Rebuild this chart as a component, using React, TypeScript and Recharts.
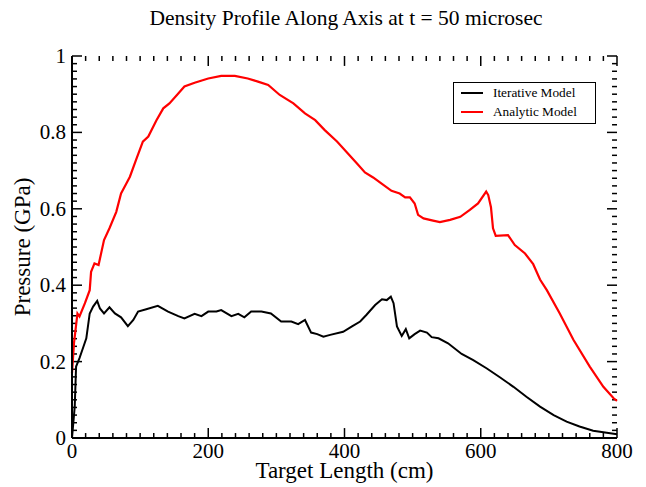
import { LineChart, Line, XAxis, YAxis, Legend, Label, ReferenceLine } from 'recharts';

const iterativeX = [
  0, 4, 6, 11, 16, 21, 26, 31, 37, 41, 47, 55, 63, 72, 82, 90, 97, 109, 126, 141, 156, 165, 180, 190,
  200, 212, 219, 234, 244, 253, 263, 278, 292, 307, 322, 332, 342, 351, 360, 369, 379, 398, 411, 423,
  432, 445, 455, 462, 468, 472, 477, 484, 490, 495, 503, 511, 521, 528, 538, 552, 572, 589, 609, 628,
  648, 667, 687, 707, 726, 745, 765, 785, 800,
];
const iterativeY = [
  0.0, 0.082, 0.187, 0.209, 0.235, 0.261, 0.326, 0.344, 0.359, 0.339, 0.326, 0.342, 0.326, 0.316, 0.293,
  0.309, 0.331, 0.337, 0.346, 0.331, 0.319, 0.313, 0.325, 0.319, 0.331, 0.331, 0.335, 0.319, 0.325, 0.316,
  0.331, 0.331, 0.326, 0.305, 0.305, 0.298, 0.309, 0.276, 0.272, 0.265, 0.27, 0.278, 0.292, 0.305, 0.322,
  0.348, 0.363, 0.361, 0.37, 0.353, 0.292, 0.267, 0.285, 0.261, 0.272, 0.281, 0.276, 0.264, 0.261, 0.248,
  0.22, 0.204, 0.182, 0.159, 0.134, 0.108, 0.082, 0.06, 0.043, 0.03, 0.019, 0.014, 0.01,
];

const analyticX = [
  0, 3, 8, 11, 19, 26, 28, 33, 39, 47, 55, 65, 72, 80, 85, 94, 104, 112, 124, 134, 143, 156, 165, 180,
  200, 219, 239, 258, 273, 288, 305, 325, 342, 357, 371, 389, 403, 418, 430, 442, 455, 469, 481, 489,
  496, 503, 508, 516, 530, 540, 555, 570, 584, 596, 608, 611, 615, 618, 622, 640, 650, 665, 677, 687,
  697, 716, 736, 760, 780, 795, 800,
];
const analyticY = [
  0.17, 0.25, 0.326, 0.318, 0.353, 0.387, 0.435, 0.457, 0.453, 0.518, 0.549, 0.592, 0.64, 0.667, 0.684,
  0.728, 0.776, 0.789, 0.832, 0.863, 0.876, 0.902, 0.92, 0.93, 0.941, 0.948, 0.948, 0.941, 0.933, 0.924,
  0.898, 0.876, 0.85, 0.832, 0.806, 0.776, 0.749, 0.719, 0.695, 0.682, 0.665, 0.647, 0.64, 0.63, 0.63,
  0.614, 0.584, 0.575, 0.569, 0.565, 0.571, 0.579, 0.597, 0.614, 0.645, 0.636, 0.604, 0.549, 0.529,
  0.531, 0.505, 0.483, 0.455, 0.415, 0.387, 0.326, 0.257, 0.187, 0.134, 0.104, 0.097,
];

const xMajor = [0, 200, 400, 600, 800];
const yMajor = [0, 0.2, 0.4, 0.6, 0.8, 1];
const yLabels = ['0', '0.2', '0.4', '0.6', '0.8', '1'];

const xTicks = Array.from({ length: 41 }, (_, i) => i * 20);
const yTicks = Array.from({ length: 51 }, (_, i) => Math.round(i * 2) / 100);

const iterativeData = iterativeX.map((x, i) => ({ x, y: iterativeY[i] }));
const analyticData = analyticX.map((x, i) => ({ x, y: analyticY[i] }));

const FONT = '"Liberation Serif", "Times New Roman", serif';

// inward tick lengths in data units (~10px major, ~5px minor)
const VTICK_MAJOR = 0.026; // vertical ticks on x axes, in y units
const VTICK_MINOR = 0.013;
const HTICK_MAJOR = 14.7; // horizontal ticks on y axes, in x units
const HTICK_MINOR = 7.3;

const isMajorX = (v: number) => xMajor.includes(v);
const majorYIndex = (v: number) => yMajor.findIndex((m) => Math.abs(m - v) < 1e-6);

const bottomTick = (p: any) => {
  const { x, y, payload } = p;
  if (!isMajorX(payload.value)) return <g />;
  return (
    <text x={x} y={y + 20} textAnchor="middle" fontFamily={FONT} fontSize={21} fill="#000">
      {payload.value}
    </text>
  );
};

const leftTick = (p: any) => {
  const { x, y, payload } = p;
  const idx = majorYIndex(payload.value);
  if (idx < 0) return <g />;
  return (
    <text x={x - 6} y={y + 7} textAnchor="end" fontFamily={FONT} fontSize={21} fill="#000">
      {yLabels[idx]}
    </text>
  );
};

const legendItems = [
  { name: 'Iterative Model', color: '#000000' },
  { name: 'Analytic Model', color: '#ff0000' },
];

const LegendBox = () => (
  <div
    style={{
      width: 141,
      height: 39,
      border: '1.5px solid #000',
      background: '#fff',
      boxSizing: 'content-box',
      fontFamily: FONT,
      fontSize: 13.3,
      paddingTop: 1,
    }}
  >
    {legendItems.map((it) => (
      <div key={it.name} style={{ display: 'flex', alignItems: 'center', height: 18.5 }}>
        <div style={{ width: 22, height: 2, background: it.color, marginLeft: 7, marginRight: 10 }} />
        <span style={{ color: '#000', lineHeight: '18px', whiteSpace: 'nowrap' }}>{it.name}</span>
      </div>
    ))}
  </div>
);

const tickSegments = () => {
  const segs: { key: string; seg: { x: number; y: number }[] }[] = [];
  xTicks.forEach((v) => {
    const len = isMajorX(v) ? VTICK_MAJOR : VTICK_MINOR;
    segs.push({ key: `b${v}`, seg: [{ x: v, y: 0 }, { x: v, y: len }] });
    segs.push({ key: `t${v}`, seg: [{ x: v, y: 1 }, { x: v, y: 1 - len }] });
  });
  yTicks.forEach((v) => {
    const len = majorYIndex(v) >= 0 ? HTICK_MAJOR : HTICK_MINOR;
    segs.push({ key: `l${v}`, seg: [{ x: 0, y: v }, { x: len, y: v }] });
    segs.push({ key: `r${v}`, seg: [{ x: 800, y: v }, { x: 800 - len, y: v }] });
  });
  return segs;
};

export default function App() {
  return (
    <div style={{ position: 'absolute', left: 0, top: 0, width: 646, height: 487, background: '#fff' }}>
      <div
        style={{
          position: 'absolute',
          left: 0,
          top: 5,
          width: 692,
          textAlign: 'center',
          fontFamily: FONT,
          fontSize: 21.5,
          color: '#000',
          lineHeight: '26px',
        }}
      >
        Density Profile Along Axis at t = 50 microsec
      </div>
      <LineChart width={646} height={487} margin={{ top: 56, right: 29, bottom: 9, left: 22 }}>
        <XAxis
          dataKey="x"
          type="number"
          domain={[0, 800]}
          ticks={xTicks}
          interval={0}
          tickSize={0}
          tickMargin={0}
          tickLine={false}
          tick={bottomTick}
          height={40}
          axisLine={{ stroke: '#000', strokeWidth: 2 }}
        >
          <Label
            value="Target Length (cm)"
            position="insideBottom"
            offset={0}
            style={{ fontFamily: FONT, fontSize: 23, fill: '#000' }}
          />
        </XAxis>
        <XAxis
          xAxisId="top"
          dataKey="x"
          type="number"
          orientation="top"
          domain={[0, 800]}
          tick={false}
          tickLine={false}
          height={0}
          axisLine={{ stroke: '#000', strokeWidth: 2 }}
        />
        <YAxis
          type="number"
          domain={[0, 1]}
          ticks={yTicks}
          interval={0}
          tickSize={0}
          tickMargin={0}
          tickLine={false}
          tick={leftTick}
          width={50}
          axisLine={{ stroke: '#000', strokeWidth: 2 }}
        >
          <Label
            value="Pressure (GPa)"
            angle={-90}
            position="center"
            dx={-25}
            style={{ fontFamily: FONT, fontSize: 23, fill: '#000' }}
          />
        </YAxis>
        <YAxis
          yAxisId="right"
          type="number"
          orientation="right"
          domain={[0, 1]}
          tick={false}
          tickLine={false}
          width={0}
          axisLine={{ stroke: '#000', strokeWidth: 2 }}
        />
        {tickSegments().map((s) => (
          <ReferenceLine key={s.key} segment={s.seg} stroke="#000" strokeWidth={1.5} ifOverflow="visible" />
        ))}
        <Legend
          layout="vertical"
          align="center"
          verticalAlign="middle"
          content={<LegendBox />}
          wrapperStyle={{ left: 453, top: 82, width: 144, height: 42 }}
        />
        <Line
          data={iterativeData}
          dataKey="y"
          name="Iterative Model"
          type="linear"
          stroke="#000000"
          strokeWidth={2}
          dot={false}
          activeDot={false}
          isAnimationActive={false}
        />
        <Line
          data={analyticData}
          dataKey="y"
          name="Analytic Model"
          type="linear"
          stroke="#ff0000"
          strokeWidth={2.2}
          dot={false}
          activeDot={false}
          isAnimationActive={false}
        />
      </LineChart>
    </div>
  );
}
